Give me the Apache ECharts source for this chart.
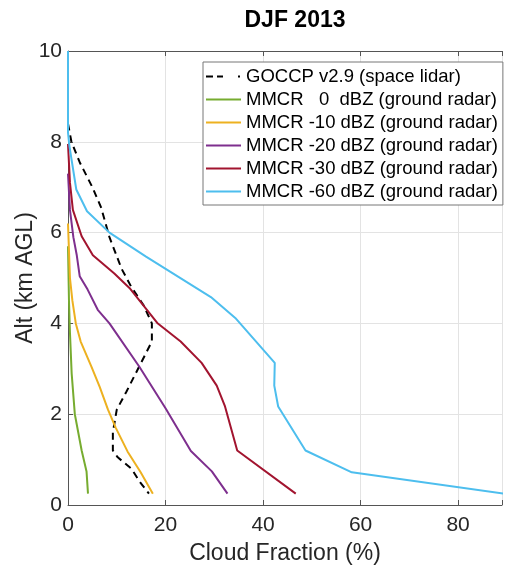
<!DOCTYPE html>
<html>
<head>
<meta charset="utf-8">
<script src="https://cdn.jsdelivr.net/npm/echarts@6/dist/echarts.min.js"></script>
<style>html,body{margin:0;padding:0;background:#fff;}#c{width:505px;height:570px;}</style>
</head>
<body>
<div id="c"></div>
<script>
// Data (altitude in km AGL, cloud fraction in %)
const seriesNames = [
  'GOCCP v2.9 (space lidar)',
  'MMCR   0  dBZ (ground radar)',
  'MMCR -10 dBZ (ground radar)',
  'MMCR -20 dBZ (ground radar)',
  'MMCR -30 dBZ (ground radar)',
  'MMCR -60 dBZ (ground radar)'
];
const goccpAlt  = [8.4, 8.0, 7.55, 7.0, 6.55, 5.9, 5.2, 4.8, 4.4, 4.0, 3.6, 3.05, 2.5, 2.1, 1.6, 1.2, 1.05, 0.8, 0.5, 0.25];
const goccpFrac = [0, 0.7, 2.4, 5.0, 6.8, 8.5, 11.0, 13.0, 15.5, 17.2, 17.2, 14.6, 12.0, 10.0, 9.2, 9.2, 10.2, 13.0, 14.8, 16.6];
const dbz0Alt   = [5.7, 4.5, 3.8, 2.9, 2.0, 1.2, 0.74, 0.25];
const dbz0Frac  = [0, 0.2, 0.4, 0.75, 1.4, 2.8, 3.8, 4.1];
const dbz10Alt  = [6.2, 5.0, 4.5, 4.0, 3.6, 3.05, 2.6, 2.1, 1.7, 1.18, 0.72, 0.25];
const dbz10Frac = [0, 0.4, 0.9, 1.6, 2.6, 4.8, 6.5, 8.2, 9.8, 12.2, 14.9, 17.4];
const dbz20Alt  = [7.3, 6.5, 5.9, 5.5, 5.04, 4.75, 4.3, 4.0, 3.05, 2.13, 1.19, 0.74, 0.25];
const dbz20Frac = [0, 0.4, 1.1, 1.8, 2.4, 4.0, 6.1, 8.5, 14.6, 20.0, 25.2, 29.5, 32.7];
const dbz30Alt  = [7.95, 7.1, 6.5, 5.92, 5.5, 5.1, 4.78, 4.01, 3.6, 3.13, 2.63, 2.17, 1.2, 0.25];
const dbz30Frac = [0, 0.4, 1.0, 2.8, 5.1, 9.5, 12.6, 18.3, 23.1, 27.4, 30.5, 32.2, 34.7, 46.7];
const dbz60Alt  = [10, 8.2, 7.9, 6.95, 6.47, 6.0, 5.47, 4.58, 4.12, 3.13, 2.63, 2.17, 1.2, 0.72, 0.25];
const dbz60Frac = [0, 0, 0.3, 1.7, 3.9, 8.5, 16.0, 29.3, 34.3, 42.4, 42.3, 43.1, 48.7, 58.2, 89.5];
const xTicks = [0, 20, 40, 60, 80];
const yTicks = [0, 2, 4, 6, 8, 10];

const alts  = [goccpAlt, dbz0Alt, dbz10Alt, dbz20Alt, dbz30Alt, dbz60Alt];
const fracs = [goccpFrac, dbz0Frac, dbz10Frac, dbz20Frac, dbz30Frac, dbz60Frac];
const colors = ['#000000', '#77AC30', '#EDB120', '#7E2F8E', '#A2142F', '#4DBEEE'];

const FONT = '"Liberation Sans", Arial, Helvetica, sans-serif';
const TXT = '#262626';

const ICON_SOLID = 'path://M0,0L35,0L35,2L0,2Z';
const ICON_DASH = 'path://M0,0L7,0L7,2L0,2Z M11,0L17,0L17,2L11,2Z M32,0L34,0L34,2L32,2Z M35,0L35,2L35,2Z';

const series = seriesNames.map((name, i) => ({
  name: name,
  type: 'line',
  xAxisIndex: 0,
  yAxisIndex: 0,
  symbol: 'none',
  animation: false,
  data: fracs[i].map((f, k) => [f, alts[i][k]]),
  lineStyle: {
    color: colors[i],
    width: 2,
    type: i === 0 ? [7, 5] : 'solid'
  },
  itemStyle: { color: colors[i] }
}));

const chart = echarts.init(document.getElementById('c'), null, { renderer: 'canvas' });
chart.setOption({
  animation: false,
  backgroundColor: '#ffffff',
  title: {
    text: 'DJF 2013',
    left: 290,
    textAlign: 'center',
    top: 4,
    textStyle: { fontFamily: FONT, fontSize: 23, fontWeight: 'bold', color: '#000' }
  },
  grid: { left: 68, right: 1, top: 51, bottom: 65, containLabel: false },
  legend: {
    orient: 'vertical',
    left: 203,
    top: 62,
    padding: [5, 5, 4, 3],
    itemGap: 4,
    itemWidth: 35,
    itemHeight: 2,
    backgroundColor: '#ffffff',
    borderColor: '#777',
    borderWidth: 1,
    data: seriesNames.map((n, i) => ({ name: n, icon: i === 0 ? ICON_DASH : ICON_SOLID, itemStyle: { color: colors[i] } })),
    textStyle: { fontFamily: FONT, fontSize: 18.5, color: '#000' }
  },
  xAxis: [{
    type: 'value',
    min: 0,
    max: 89,
    interval: 20,
    position: 'bottom',
    name: 'Cloud Fraction (%)',
    nameLocation: 'middle',
    nameMoveOverlap: false,
    nameGap: 37,
    nameTextStyle: { fontFamily: FONT, fontSize: 23, color: TXT },
    axisLine: { show: true, lineStyle: { color: '#555', width: 1 } },
    axisTick: { show: true, inside: true, length: 5, lineStyle: { color: '#555' } },
    axisLabel: {
      fontFamily: FONT, fontSize: 21, color: TXT, margin: 10,
      formatter: v => (xTicks.indexOf(v) >= 0 ? String(v) : '')
    },
    splitLine: { show: true, lineStyle: { color: '#e3e3e3', width: 1 } }
  }, {
    type: 'value',
    min: 0,
    max: 89,
    interval: 20,
    position: 'top',
    axisLine: { show: true, lineStyle: { color: '#555', width: 1 } },
    axisTick: { show: true, inside: true, length: 5, lineStyle: { color: '#555' } },
    axisLabel: { show: false },
    splitLine: { show: false }
  }],
  yAxis: [{
    type: 'value',
    min: 0,
    max: 10,
    interval: 2,
    name: 'Alt (km AGL)',
    nameLocation: 'middle',
    nameMoveOverlap: false,
    nameGap: 31,
    nameRotate: 90,
    nameTextStyle: { fontFamily: FONT, fontSize: 23, color: TXT },
    axisLine: { show: true, lineStyle: { color: '#555', width: 1 } },
    axisTick: { show: true, inside: true, length: 5, lineStyle: { color: '#555' } },
    axisLabel: {
      fontFamily: FONT, fontSize: 21, color: TXT, margin: 6,
      formatter: v => (yTicks.indexOf(v) >= 0 ? String(v) : '')
    },
    splitLine: { show: true, lineStyle: { color: '#e3e3e3', width: 1 } }
  }],
  series: series
});
</script>
</body>
</html>
